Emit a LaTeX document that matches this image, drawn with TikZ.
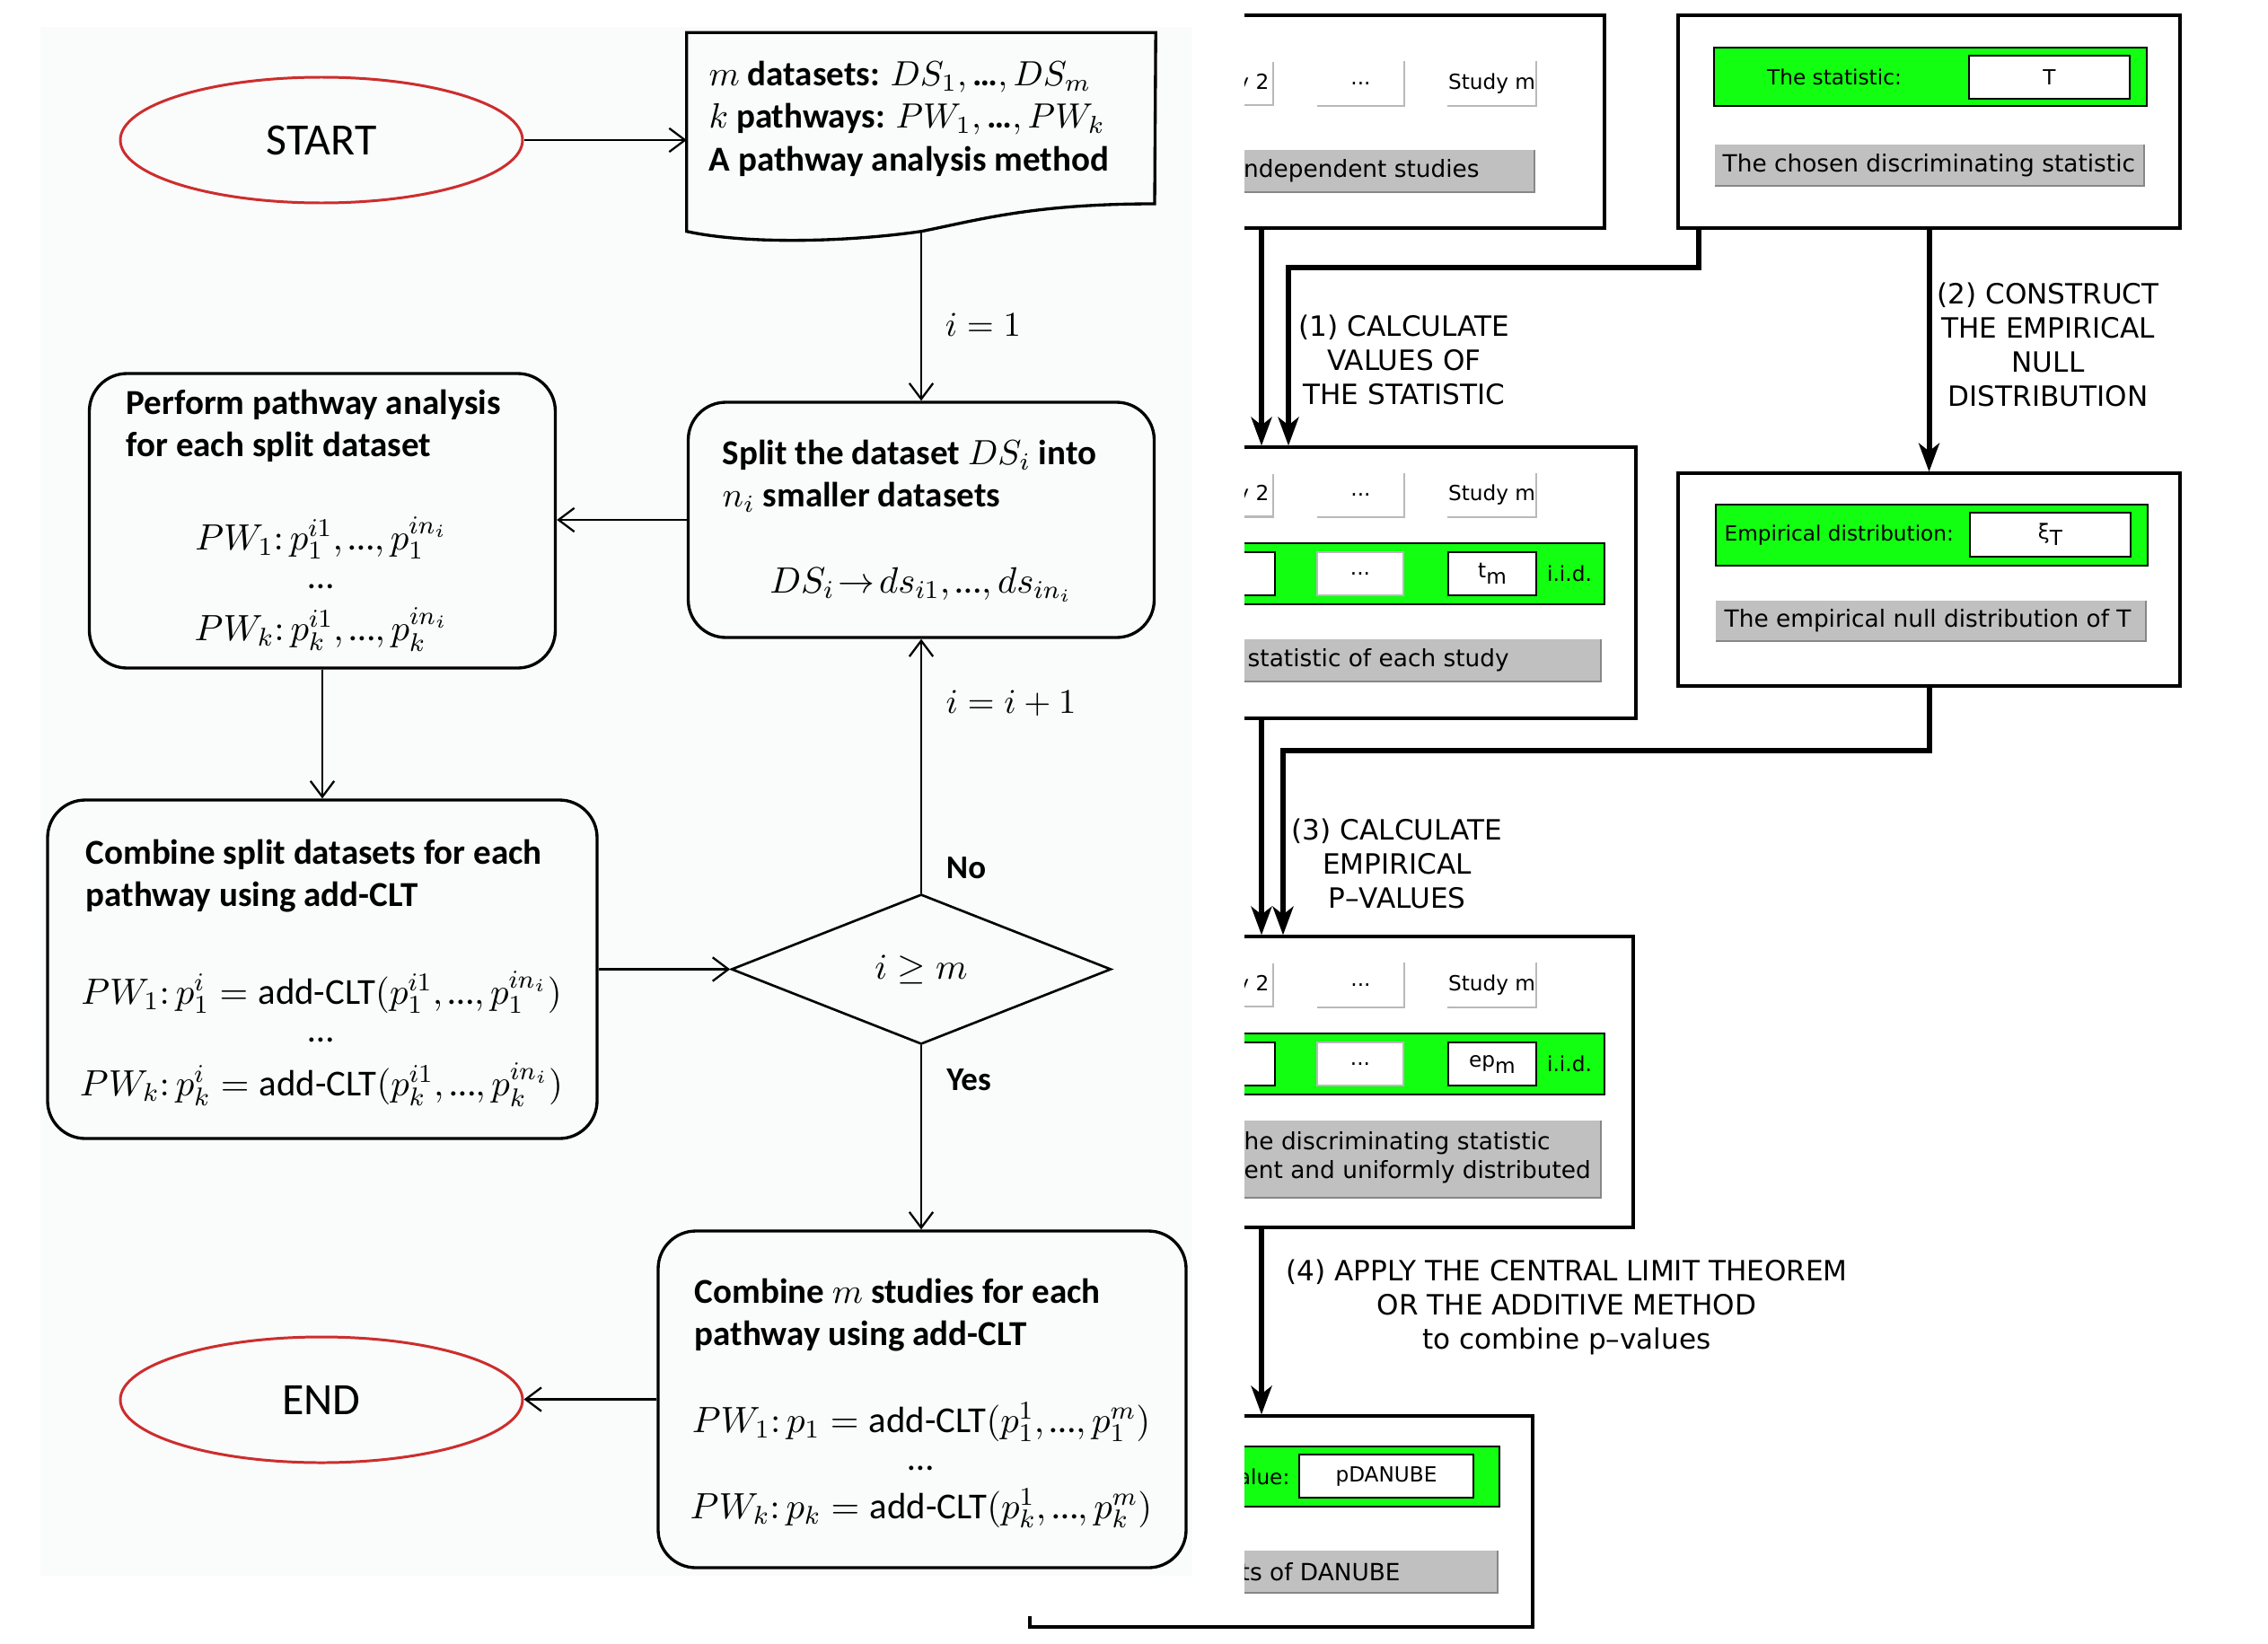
\RequirePackage{fix-cm}
\documentclass[tikz,border=0pt]{standalone}
\usepackage{fontspec}
\newfontfamily\calib{Carlito}
\newfontfamily\lucid{DejaVu Sans}
\usetikzlibrary{arrows.meta,shapes.geometric,calc}

\definecolor{termred}{RGB}{205,45,45}
\definecolor{panelbg}{RGB}{250,251,251}
\definecolor{danubegreen}{RGB}{18,255,18}
\definecolor{bargray}{RGB}{192,192,192}
\definecolor{bardark}{RGB}{135,135,135}
\definecolor{tabgray}{RGB}{185,185,185}

\tikzset{
  term/.style={ellipse, draw=termred, line width=0.85pt, minimum width=4.48cm,
    minimum height=1.40cm, inner sep=0pt, font=\calib\fontsize{14.2}{16}\selectfont},
  flowbox/.style={draw, line width=0.95pt, rounded corners=0.42cm, inner sep=0pt},
  flow/.style={-{Straight Barb[length=5pt,width=7.5pt]}, line width=0.65pt},
  headtxt/.style={anchor=west, align=left, inner sep=0pt,
    font=\calib\bfseries\fontsize{11.1}{13.5}\selectfont},
  fmla/.style={inner sep=0pt, font=\calib\fontsize{11.6}{13}\selectfont},
  steplbl/.style={inner sep=0pt, font=\fontsize{11}{13}\selectfont},
  answer/.style={inner sep=0pt, font=\calib\bfseries\fontsize{10.5}{12}\selectfont},
  % right-hand panels
  panel/.style={draw, line width=0.9pt, fill=white, inner sep=0pt},
  pipe/.style={line width=1.7pt, -{Stealth[length=9pt,width=6.5pt,inset=2.5pt]}},
  capslbl/.style={align=center, inner sep=0pt, font=\lucid\fontsize{8.85}{10.8}\selectfont},
  studytab/.style={inner sep=0pt, minimum height=0.48cm, font=\lucid\fontsize{6.6}{8}\selectfont},
  tabedge/.style={draw=tabgray, line width=0.6pt},
  greenbar/.style={draw, fill=danubegreen, line width=0.5pt},
  whitecell/.style={draw, fill=white, line width=0.5pt, inner sep=0pt,
    font=\lucid\fontsize{6.6}{8}\selectfont},
  bartxt/.style={inner sep=0pt, anchor=west, align=left, font=\lucid\fontsize{7.5}{9.1}\selectfont},
  smalltxt/.style={inner sep=0pt, font=\lucid\fontsize{6.6}{8}\selectfont}
}

\begin{document}
\begin{tikzpicture}
\useasboundingbox (0,0) rectangle (25.26,-18.30);

% right-hand diagram, partly hidden under the flowchart
\begin{scope}
  \clip (13.86,0) -- (25.26,0) -- (25.26,-18.30) -- (0,-18.30) -- (0,-18.00)
    -- (13.86,-18.00) -- cycle;

  % frames
  \node[panel, minimum width=6.40cm, minimum height=2.37cm] (studies) at (14.67,-1.355) {};
  \node[panel, minimum width=5.59cm, minimum height=2.37cm] (stat) at (21.485,-1.355) {};
  \node[panel, minimum width=6.75cm, minimum height=3.02cm] (values) at (14.845,-6.49) {};
  \node[panel, minimum width=5.59cm, minimum height=2.37cm] (nulldist) at (21.485,-6.455) {};
  \node[panel, minimum width=6.72cm, minimum height=3.24cm] (pvals) at (14.83,-12.05) {};
  \node[panel, minimum width=5.60cm, minimum height=2.35cm] (danube) at (14.27,-16.945) {};

  % study tabs
  \foreach \ry/\k in {-0.93/1, -5.515/2, -10.97/3} {
    \node[studytab, anchor=east] (tabtwo\k) at (14.14,\ry) {y 2};
    \node[studytab, minimum width=0.95cm] (tabdots\k) at (15.155,\ry) {...};
    \node[studytab, minimum width=0.95cm] (tabm\k) at (16.615,\ry) {Study m};
    \draw[tabedge] (14.18,\ry+0.24) -- (14.18,\ry-0.24) -- (13.5,\ry-0.24);
    \draw[tabedge] (tabdots\k.north east) -- (tabdots\k.south east) -- (tabdots\k.south west);
    \draw[tabedge] (tabm\k.north east) -- (tabm\k.south east) -- (tabm\k.south west);
  }

  % value rows
  \foreach \gy/\k/\lab in {-6.39/2/t, -11.85/3/ep} {
    \draw[greenbar] (13.5,\gy+0.34) rectangle (17.87,\gy-0.34);
    \node[whitecell, minimum width=0.90cm, minimum height=0.48cm] (cellone\k) at (13.75,\gy) {};
    \node[whitecell, draw=tabgray, minimum width=0.96cm, minimum height=0.48cm] (celldots\k) at (15.15,\gy) {...};
    \node[whitecell, minimum width=0.98cm, minimum height=0.48cm] (cellm\k) at (16.62,\gy) {\lab\raisebox{-0.55ex}{m}};
    \node[smalltxt] (iid\k) at (17.48,\gy) {i.i.d.};
  }

  % grey captions
  \foreach \xa/\ya/\xb/\yb in {13.5/-1.67/17.09/-2.14, 19.10/-1.61/23.88/-2.07,
      13.5/-7.12/17.83/-7.59, 19.11/-6.69/23.90/-7.14,
      13.5/-12.48/17.83/-13.34, 13.5/-17.27/16.68/-17.74} {
    \fill[bargray] (\xa,\ya) rectangle (\xb,\yb);
    \draw[bardark, line width=0.6pt] (\xb,\ya) -- (\xb,\yb) -- (\xa,\yb);
  }
  \node[bartxt] (studiestxt) at (13.845,-1.905) {ndependent studies};
  \node[bartxt] (stattxt) at (19.18,-1.84) {The chosen discriminating statistic};
  \node[bartxt] (valuestxt) at (13.89,-7.355) {statistic of each study};
  \node[bartxt] (nulltxt) at (19.20,-6.915) {The empirical null distribution of T};
  \node[bartxt] (pvalstxt) at (13.85,-12.89) {he discriminating statistic\\ent and uniformly distributed};
  \node[bartxt] (danubetxt) at (13.81,-17.505) {ts of DANUBE};

  % green fields
  \draw[greenbar] (19.09,-0.53) rectangle (23.91,-1.18);
  \node[smalltxt] (statlbl) at (20.43,-0.855) {The statistic:};
  \node[whitecell, minimum width=1.79cm, minimum height=0.48cm] (statcell) at (22.825,-0.86) {T};
  \draw[greenbar] (19.11,-5.62) rectangle (23.92,-6.30);
  \node[smalltxt, anchor=west] (emplbl) at (19.20,-5.96) {Empirical distribution:};
  \node[whitecell, minimum width=1.79cm, minimum height=0.49cm] (empcell) at (22.835,-5.955) {ξ\raisebox{-0.55ex}{T}};
  \draw[greenbar] (13.5,-16.11) rectangle (16.70,-16.78);
  \node[smalltxt, anchor=east] (pvallbl) at (14.37,-16.445) {alue:};
  \node[whitecell, minimum width=1.94cm, minimum height=0.48cm] (pcell) at (15.44,-16.44) {pDANUBE};

  % pipes
  \coordinate (lane) at (14.05,0);
  \coordinate (laneT) at (14.35,0);
  \coordinate (laneE) at (14.29,0);
  \draw[pipe] (studies.south -| lane) -- (values.north -| lane);
  \draw[pipe] ([xshift=0.25cm]stat.south west) -- ++(0,-0.42) -| (values.north -| laneT);
  \draw[pipe] (stat.south) -- (nulldist.north);
  \draw[pipe] (values.south -| lane) -- (pvals.north -| lane);
  \draw[pipe] (nulldist.south) -- ++(0,-0.70) -| (pvals.north -| laneE);
  \draw[pipe] (pvals.south -| lane) -- (danube.north -| lane);
\end{scope}

% step labels
\node[capslbl] (calc) at (15.64,-4.01) {(1) CALCULATE\\VALUES OF\\THE STATISTIC};
\node[capslbl] (construct) at (22.81,-3.84) {(2) CONSTRUCT\\THE EMPIRICAL\\NULL\\DISTRIBUTION};
\node[capslbl] (empp) at (15.56,-9.62) {(3) CALCULATE\\EMPIRICAL\\P–VALUES};
\node[capslbl] (apply) at (17.45,-14.56) {(4) APPLY THE CENTRAL LIMIT THEOREM\\OR THE ADDITIVE METHOD\\to combine p–values};

% flowchart sheet
\fill[panelbg] (0.45,-0.30) rectangle (13.28,-17.55);

% start and input
\node[term] (start) at (3.58,-1.56) {START};
\node[minimum width=5.21cm, minimum height=2.20cm, inner sep=0pt] (input) at (10.26,-1.47) {};
\draw[line width=0.95pt] (input.south west) -- (input.north west) -- (input.north east)
  -- (12.86,-2.27) .. controls (11.5,-2.27) and (10.9,-2.45) .. (input.south)
  .. controls (9.4,-2.70) and (8.3,-2.72) .. (input.south west) -- cycle;
\node[headtxt] (inputtxt) at (7.89,-1.32) {$m$ datasets: $DS_1, \mbox{…}, DS_m$\\
  $k$ pathways: $PW_1, \mbox{…}, PW_k$\\A pathway analysis method};

% split
\node[flowbox, minimum width=5.19cm, minimum height=2.62cm] (split) at (10.26,-5.79) {};
\node[headtxt] (splittxt) at (8.04,-5.305) {Split the dataset $DS_i$ into\\$n_i$ smaller datasets};
\node[fmla] (splitmap) at (10.26,-6.51) {$DS_i\!\rightarrow\! ds_{i1}, \mbox{…}, ds_{in_i}$};

% pathway analysis
\node[flowbox, minimum width=5.19cm, minimum height=3.28cm] (perform) at (3.59,-5.80) {};
\node[headtxt] (performtxt) at (1.40,-4.745) {Perform pathway analysis\\for each split dataset};
\node[fmla] (pwone) at (3.58,-5.99) {$PW_1\colon p_1^{i1}, \mbox{…}, p_1^{in_i}$};
\node[fmla] (pwdots) at (3.58,-6.53) {…};
\node[fmla] (pwk) at (3.58,-7.01) {$PW_k\colon p_k^{i1}, \mbox{…}, p_k^{in_i}$};

% combine split datasets
\node[flowbox, minimum width=6.12cm, minimum height=3.77cm] (csplit) at (3.59,-10.795) {};
\node[headtxt] (csplittxt) at (0.95,-9.755) {Combine split datasets for each\\pathway using add-CLT};
\node[fmla] (csone) at (3.58,-11.05) {$PW_1\colon p_1^i = \mbox{add-CLT}(p_1^{i1}, \mbox{…}, p_1^{in_i})$};
\node[fmla] (csdots) at (3.58,-11.58) {…};
\node[fmla] (csk) at (3.58,-12.08) {$PW_k\colon p_k^i = \mbox{add-CLT}(p_k^{i1}, \mbox{…}, p_k^{in_i})$};

% decision
\node[diamond, draw, line width=0.75pt, minimum width=4.23cm, minimum height=1.67cm,
  inner sep=0pt, font=\fontsize{11.5}{13}\selectfont] (check) at (10.26,-10.795) {$i \geq m$};

% combine studies
\node[flowbox, minimum width=5.88cm, minimum height=3.75cm] (cm) at (10.27,-15.585) {};
\node[headtxt] (cmtxt) at (7.73,-14.645) {Combine $m$ studies for each\\pathway using add-CLT};
\node[fmla] (cmone) at (10.26,-15.84) {$PW_1\colon p_1 = \mbox{add-CLT}(p_1^1, \mbox{…}, p_1^m)$};
\node[fmla] (cmdots) at (10.26,-16.35) {…};
\node[fmla] (cmk) at (10.26,-16.80) {$PW_k\colon p_k = \mbox{add-CLT}(p_k^1, \mbox{…}, p_k^m)$};

\node[term] (finish) at (3.58,-15.59) {END};

% connectors
\draw[flow] (start.east) -- (start.east -| input.west);
\draw[flow] (input.south) -- (split.north);
\draw[flow] (split.west) -- (split.west -| perform.east);
\draw[flow] (perform.south) -- (csplit.north);
\draw[flow] (csplit.east) -- (check.west);
\draw[flow] (check.north) -- (split.south);
\draw[flow] (check.south) -- (check.south |- cm.north);
\draw[flow] (cm.west) -- (cm.west -| finish.east);

% loop labels
\node[steplbl] (iinit) at (10.95,-3.62) {$i = 1$};
\node[steplbl] (iinc) at (11.26,-7.83) {$i = i + 1$};
\node[answer] (no) at (10.76,-9.67) {No};
\node[answer] (yes) at (10.79,-12.03) {Yes};
\end{tikzpicture}
\end{document}
